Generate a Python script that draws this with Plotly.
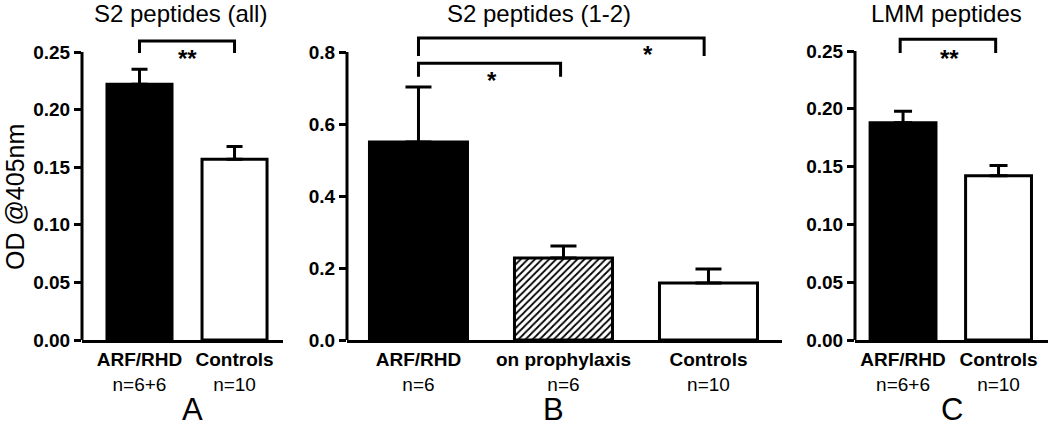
import plotly.graph_objects as go

W, H = 1050, 428

# ---------------- data ----------------
a_labels = ["<b>ARF/RHD</b><br>n=6+6", "<b>Controls</b><br>n=10"]
a_means = [0.222, 0.157]
a_errs = [0.013, 0.011]

b_labels = ["<b>ARF/RHD</b><br>n=6", "<b>on prophylaxis</b><br>n=6", "<b>Controls</b><br>n=10"]
b_means = [0.550, 0.228, 0.158]
b_errs = [0.153, 0.033, 0.039]

c_labels = ["<b>ARF/RHD</b><br>n=6+6", "<b>Controls</b><br>n=10"]
c_means = [0.188, 0.142]
c_errs = [0.010, 0.009]

a_ticks = [0.00, 0.05, 0.10, 0.15, 0.20, 0.25]
b_ticks = [0.0, 0.2, 0.4, 0.6, 0.8]
c_ticks = [0.00, 0.05, 0.10, 0.15, 0.20, 0.25]

titles = ["S2 peptides (all)", "S2 peptides (1-2)", "LMM peptides"]
panel_letters = ["A", "B", "C"]
y_title = "OD @405nm"

FONT = "Liberation Sans, Arial, Helvetica, sans-serif"


def px(x):
    return x / W


def py(y):
    return 1 - y / H


fig = go.Figure()

# bottom of plot (value 0) at y=340 px, top of domain at y=30 px
y_dom = [py(340), py(30)]

panels = [
    dict(labels=a_labels, means=a_means, errs=a_errs, ticks=a_ticks,
         xdom=[px(82), px(283)], xr=[-0.605, 1.51], yr=[0, 0.2691], fmt=".2f",
         width=0.684, capw=8,
         colors=["black", "white"], patterns=["", ""]),
    dict(labels=b_labels, means=b_means, errs=b_errs, ticks=b_ticks,
         xdom=[px(347), px(782)], xr=[-0.493, 2.507], yr=[0, 0.8611], fmt=".1f",
         width=0.676, capw=13,
         colors=["black", "white", "white"], patterns=["", "/", ""]),
    dict(labels=c_labels, means=c_means, errs=c_errs, ticks=c_ticks,
         xdom=[px(855), px(1048)], xr=[-0.503, 1.518], yr=[0, 0.2682], fmt=".2f",
         width=0.69, capw=9,
         colors=["black", "white"], patterns=["", ""]),
]

layout = {}
for i, p in enumerate(panels):
    n = "" if i == 0 else str(i + 1)
    xa, ya = "x" + n, "y" + n
    for j, (m, e) in enumerate(zip(p["means"], p["errs"])):
        mk = dict(color=p["colors"][j], line=dict(color="black", width=3))
        if p["patterns"][j]:
            mk["pattern"] = dict(shape=p["patterns"][j], fgcolor="black", bgcolor="white",
                                 size=5, solidity=0.35)
        fig.add_trace(go.Bar(
            x=[j], y=[m], width=p["width"],
            xaxis=xa, yaxis=ya,
            marker=mk,
            error_y=dict(type="data", array=[e], symmetric=False, arrayminus=[0],
                         color="black", thickness=3, width=p["capw"]),
            showlegend=False, hoverinfo="skip",
        ))
    xs = list(range(len(p["means"])))
    layout["xaxis" + n] = dict(
        domain=p["xdom"], range=p["xr"], anchor=ya, automargin=False,
        tickvals=xs, ticktext=p["labels"], ticks="",
        showline=True, linecolor="black", linewidth=3,
        showgrid=False, zeroline=False, fixedrange=True,
        tickfont=dict(family=FONT, size=19, color="black"),
    )
    layout["yaxis" + n] = dict(
        domain=y_dom, range=p["yr"], anchor=xa, automargin=False,
        tickvals=p["ticks"], tickformat=p["fmt"],
        ticks="outside", ticklen=7, tickwidth=3, tickcolor="black",
        showline=False, showgrid=False, zeroline=False, fixedrange=True,
        tickfont=dict(family=FONT, size=19, color="black", weight="bold"),
    )
    # y axis line only up to top tick
    fig.add_shape(type="line", xref=xa + " domain", yref=ya,
                  x0=0, x1=0, y0=0, y1=p["ticks"][-1],
                  line=dict(color="black", width=3))

fig.update_layout(**layout)


# significance brackets (data coordinates)
def bracket(xa, ya, x0, x1, ytop, ybot, star, sx, sy):
    fig.add_shape(type="path", xref=xa, yref=ya,
                  path=f"M {x0},{ybot} L {x0},{ytop} L {x1},{ytop} L {x1},{ybot}",
                  line=dict(color="black", width=3))
    fig.add_annotation(xref=xa, yref=ya, x=sx, y=sy, text=f"<b>{star}</b>",
                       showarrow=False, yshift=-3,
                       font=dict(family=FONT, size=24, color="black"))


bracket("x", "y", 0, 1, 0.2595, 0.2491, "**", 0.51, 0.247)
bracket("x2", "y2", 0, 1.97, 0.839, 0.789, "*", 1.58, 0.80)
bracket("x2", "y2", 0, 0.98, 0.769, 0.731, "*", 0.51, 0.728)
bracket("x3", "y3", -0.03, 0.97, 0.2603, 0.2482, "**", 0.49, 0.2465)

# titles
for t, cx in zip(titles, [180.5, 539, 946.5]):
    fig.add_annotation(xref="paper", yref="paper", x=px(cx), y=py(13), text=t,
                       showarrow=False, xanchor="center", yanchor="middle",
                       font=dict(family=FONT, size=24, color="black"))

# panel letters
for t, cx in zip(panel_letters, [192, 553, 952]):
    fig.add_annotation(xref="paper", yref="paper", x=px(cx), y=py(409), text=t,
                       showarrow=False, xanchor="center", yanchor="middle",
                       font=dict(family=FONT, size=31, color="black"))

# y axis title
fig.add_annotation(xref="paper", yref="paper", x=px(15), y=py(197), text=y_title,
                   showarrow=False, textangle=-90, xanchor="center", yanchor="middle",
                   font=dict(family=FONT, size=25, color="black"))

fig.update_layout(template="none", width=W, height=H,
                  margin=dict(l=0, r=0, t=0, b=0, autoexpand=False),
                  paper_bgcolor="white", plot_bgcolor="white",
                  barmode="overlay", font=dict(family=FONT, color="black"))

fig.write_html("out.html", config={"displayModeBar": False, "staticPlot": True},
               post_script="document.body.style.margin='0';document.body.style.padding='0';")
